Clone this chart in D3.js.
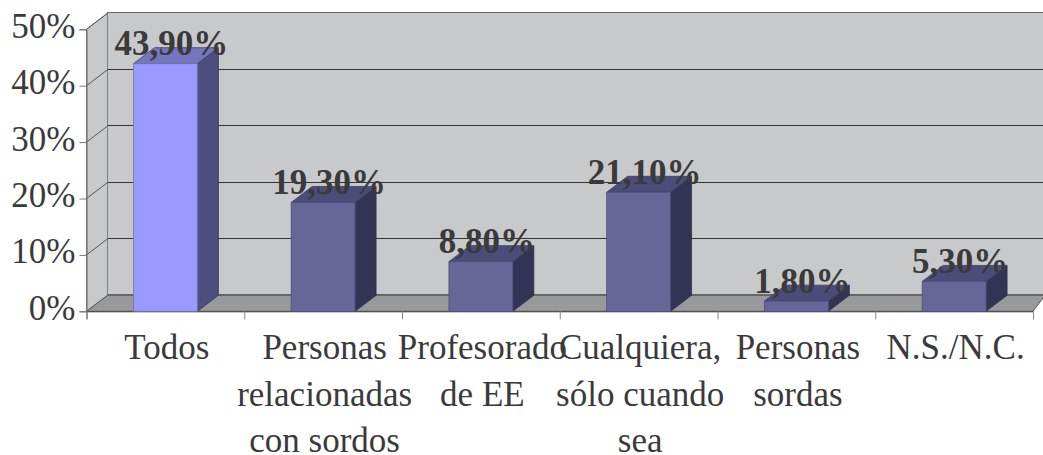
<!DOCTYPE html>
<html lang="es">
<head>
<meta charset="UTF-8">
<script src="https://d3js.org/d3.v7.min.js"></script>
<title>Chart</title>
<style>
  body { margin: 0; background: #fff; }
  svg { display: block; }
  text { font-family: "Liberation Serif", serif; fill: #3a3a3a; }
</style>
</head>
<body>
<div id="chart"></div>
<script>
const categories = ["Todos", "Personas relacionadas", "Profesorado", "Cualquiera", "Personas sordas", "N.S./N.C."];
const categoryLines = [
    ["Todos"],
    ["Personas", "relacionadas", "con sordos"],
    ["Profesorado", "de EE"],
    ["Cualquiera,", "sólo cuando", "sea"],
    ["Personas", "sordas"],
    ["N.S./N.C."]
];
const values = [43.9, 19.3, 8.8, 21.1, 1.8, 5.3];
const valueLabels = ["43,90%", "19,30%", "8,80%", "21,10%", "1,80%", "5,30%"];
const yTicks = [0, 10, 20, 30, 40, 50];

const width = 1043, height = 455;
const plotLeft = 86.5, plotRight = 1033, plotTop = 29.3, plotBottom = 311.3;
const dx = 21, dy = 16;
const crisp = v => Math.round(v) - 0.5;

const svg = d3.select("#chart").append("svg")
    .attr("width", width)
    .attr("height", height);

const x = d3.scaleBand().domain(categories).range([plotLeft, plotRight]).paddingInner(0.595).paddingOuter(0.2975);
const edges = d3.scaleLinear().domain([0, categories.length]).range([plotLeft, plotRight]);
const y = d3.scaleLinear().domain([0, 50]).range([plotBottom, plotTop]);

// walls and floor
svg.append("rect")
    .attr("x", plotLeft + dx).attr("y", crisp(plotTop - dy))
    .attr("width", width - plotLeft - dx + 2).attr("height", plotBottom - plotTop)
    .attr("fill", "#c8c9cb").attr("stroke", "#666").attr("stroke-width", 1);
svg.append("path")
    .attr("d", `M${plotLeft},${plotTop}L${plotLeft + dx},${plotTop - dy}L${plotLeft + dx},${plotBottom - dy}L${plotLeft},${plotBottom}Z`)
    .attr("fill", "#c8c9cb").attr("stroke", "#808080");
svg.append("path")
    .attr("d", `M${plotLeft},${plotBottom}L${plotLeft + dx},${plotBottom - dy}L${width + 2},${plotBottom - dy}L${plotRight},${plotBottom}Z`)
    .attr("fill", "#98999b").attr("stroke", "#555");

// gridlines on the back wall, with their slant on the side wall
const grid = svg.append("g");
grid.selectAll("line.back")
    .data(yTicks.filter(d => d > 0 && d < 50))
    .join("line")
    .attr("class", "back")
    .attr("x1", plotLeft + dx).attr("x2", width)
    .attr("y1", d => crisp(y(d) - dy)).attr("y2", d => crisp(y(d) - dy))
    .attr("stroke", "#333").attr("stroke-width", 1);
grid.selectAll("line.side")
    .data(yTicks.filter(d => d > 0))
    .join("line")
    .attr("class", "side")
    .attr("x1", plotLeft).attr("x2", plotLeft + dx)
    .attr("y1", d => y(d)).attr("y2", d => y(d) - dy)
    .attr("stroke", "#555").attr("stroke-width", 1);

// axes
const yAxis = svg.append("g")
    .attr("transform", `translate(${plotLeft},0)`)
    .call(d3.axisLeft(y).tickValues(yTicks).tickSize(7).tickPadding(4).tickFormat(d => d + "%"));
yAxis.select(".domain").attr("stroke", "#666");
yAxis.selectAll("line").attr("stroke", "#777");
yAxis.selectAll("text")
    .attr("font-size", 35)
    .attr("dy", 8)
    .style("font-family", '"Liberation Serif", serif');

const xAxis = svg.append("g")
    .attr("transform", `translate(0,${plotBottom})`)
    .call(d3.axisBottom(edges).tickValues(d3.range(categories.length + 1)).tickSize(8).tickFormat(""));
xAxis.select(".domain").attr("stroke", "#444");
xAxis.selectAll("line").attr("stroke", "#888");

// bars
const bars = svg.selectAll("g.bar")
    .data(values)
    .join("g")
    .attr("class", "bar");

const barLeft = (d, i) => x(categories[i]);
const barRight = (d, i) => x(categories[i]) + x.bandwidth();

bars.append("path") // side
    .attr("d", (d, i) => `M${barRight(d, i)},${plotBottom}L${barRight(d, i) + dx},${plotBottom - dy}L${barRight(d, i) + dx},${y(d) - dy}L${barRight(d, i)},${y(d)}Z`)
    .attr("fill", (d, i) => i === 0 ? "#4d4d80" : "#333355")
    .attr("stroke", "#2e2e4a").attr("stroke-width", 0.8);
bars.append("path") // top
    .attr("d", (d, i) => `M${barLeft(d, i)},${y(d)}L${barLeft(d, i) + dx},${y(d) - dy}L${barRight(d, i) + dx},${y(d) - dy}L${barRight(d, i)},${y(d)}Z`)
    .attr("fill", (d, i) => i === 0 ? "#7676bf" : "#4c4c7a")
    .attr("stroke", "#3c3c60").attr("stroke-width", 0.8);
bars.append("rect") // front
    .attr("x", barLeft)
    .attr("y", d => y(d))
    .attr("width", x.bandwidth())
    .attr("height", d => plotBottom - y(d))
    .attr("fill", (d, i) => i === 0 ? "#9999ff" : "#666699")
    .attr("stroke", (d, i) => i === 0 ? "#77779f" : "#4f4f7a").attr("stroke-width", 0.8);

// value labels
svg.selectAll("text.value")
    .data(values)
    .join("text")
    .attr("class", "value")
    .attr("x", (d, i) => x(categories[i]) + x.bandwidth() / 2 + 6)
    .attr("y", d => y(d) - 8.5)
    .attr("text-anchor", "middle")
    .attr("font-size", 35)
    .attr("font-weight", "bold")
    .text((d, i) => valueLabels[i]);

// category labels
const labels = svg.selectAll("text.cat")
    .data(categoryLines)
    .join("text")
    .attr("class", "cat")
    .attr("text-anchor", "middle")
    .attr("font-size", 35);
labels.selectAll("tspan")
    .data((d, i) => d.map((line, j) => ({ line, j, i })))
    .join("tspan")
    .attr("x", d => x(categories[d.i]) + x.bandwidth() / 2 + 1.5)
    .attr("y", d => 359 + d.j * 46.5)
    .text(d => d.line);
</script>
</body>
</html>
